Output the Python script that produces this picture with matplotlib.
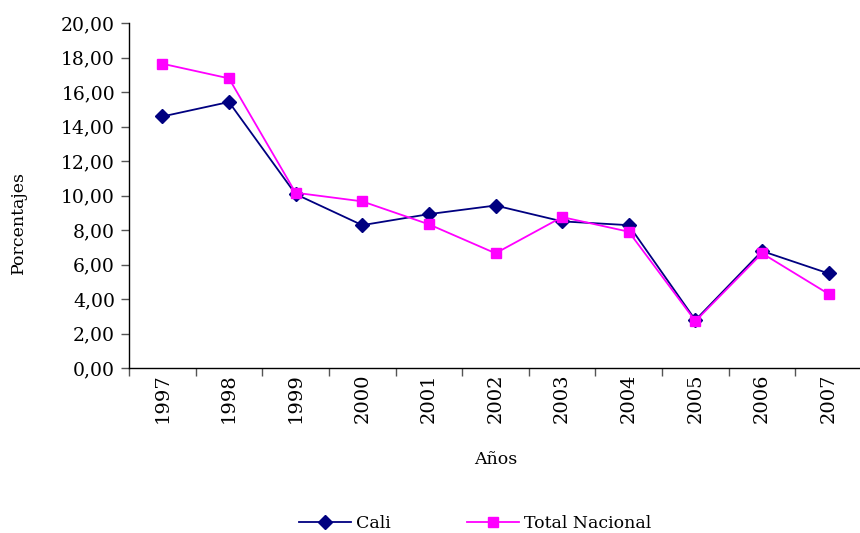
import numpy as np
import matplotlib.pyplot as plt
from matplotlib.ticker import FuncFormatter, FixedLocator

years = ['1997', '1998', '1999', '2000', '2001', '2002', '2003', '2004', '2005', '2006', '2007']
cali = [14.58, 15.42, 10.08, 8.28, 8.92, 9.42, 8.50, 8.28, 2.78, 6.78, 5.48]
total_nacional = [17.64, 16.79, 10.16, 9.66, 8.33, 6.65, 8.75, 7.90, 2.72, 6.65, 4.29]

plt.rcParams['font.family'] = ['DejaVu Serif']

fig = plt.figure(figsize=(8.6, 5.33), dpi=100)
W, H = 860, 533
left, right, top, bottom = 129, 862, 23, 368
ax = fig.add_axes([left / W, 1 - bottom / H, (right - left) / W, (bottom - top) / H])

x = np.arange(len(years))
ax.plot(x, cali, color='#000080', marker='D', markersize=7.5, linewidth=1.3,
        label='Cali', clip_on=False)
ax.plot(x, total_nacional, color='#FF00FF', marker='s', markersize=7, linewidth=1.3,
        label='Total Nacional', clip_on=False)

ax.set_xlim(-0.5, len(years) - 0.5)
ax.set_ylim(0, 20)
ax.set_yticks(np.arange(0, 21, 2))
ax.yaxis.set_major_formatter(FuncFormatter(lambda v, p: f'{v:.2f}'.replace('.', ',')))
ax.tick_params(axis='y', labelsize=13.5, length=6, width=1, color='#555555', pad=4)

ax.set_xticks(x)
ax.set_xticklabels(years, rotation=90, fontsize=14)
ax.tick_params(axis='x', which='major', length=0, pad=4)
ax.xaxis.set_minor_locator(FixedLocator(np.arange(-0.5, len(years), 1.0)))
ax.tick_params(axis='x', which='minor', length=6, width=1, color='#555555')

for s in ['top', 'right']:
    ax.spines[s].set_visible(False)
ax.spines['left'].set_linewidth(1)
ax.spines['bottom'].set_linewidth(1)

ax.set_ylabel('Porcentajes', fontsize=12.5)
ax.yaxis.set_label_coords(-(left - 27) / (right - left), (bottom - 222) / (bottom - top))
ax.set_xlabel('Años', fontsize=12.5, labelpad=20)

fig.legend(loc='center', bbox_to_anchor=(475 / W, 1 - 524 / H), ncol=2, frameon=False,
           fontsize=12.5, handlelength=3.0, columnspacing=4.4, handletextpad=0.3)

fig.savefig('out.png', dpi=100)
